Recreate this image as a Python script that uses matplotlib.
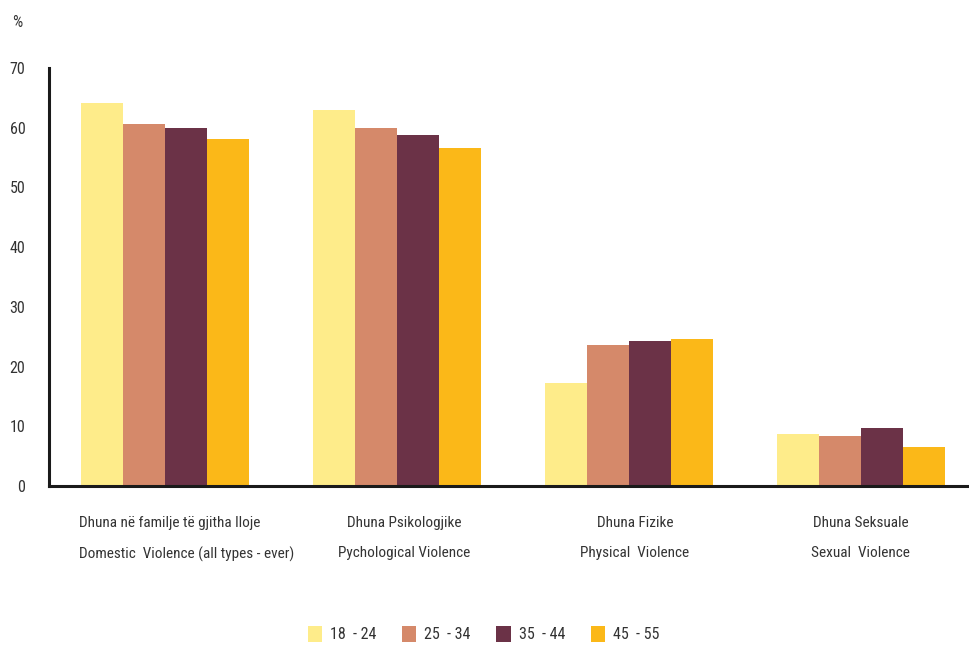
import matplotlib
matplotlib.use("Agg")
import matplotlib.pyplot as plt
import numpy as np
from matplotlib import font_manager

names = {f.name for f in font_manager.fontManager.ttflist}
fam = [n for n in ["Liberation Sans Narrow", "Roboto Condensed", "Liberation Sans"] if n in names] + ["DejaVu Sans"]
plt.rcParams['font.family'] = fam

categories_sq = ["Dhuna në familje të gjitha lloje", "Dhuna Psikologjike", "Dhuna Fizike", "Dhuna Seksuale"]
categories_en = ["Domestic  Violence (all types - ever)", "Pychological Violence", "Physical  Violence", "Sexual  Violence"]
series_labels = ["18  - 24", "25  - 34", "35  - 44", "45  - 55"]
v18_24 = [64.2, 63.0, 17.3, 8.7]
v25_34 = [60.6, 60.0, 23.6, 8.4]
v35_44 = [60.0, 58.8, 24.3, 9.7]
v45_55 = [58.1, 56.6, 24.6, 6.5]
series = [v18_24, v25_34, v35_44, v45_55]
colors = ["#FEEC8A", "#D5896A", "#6B3247", "#FBB818"]
yticks = [0, 10, 20, 30, 40, 50, 60, 70]

txt = "#333333"
fig = plt.figure(figsize=(9.69, 6.45), dpi=100)
ax = fig.add_axes([0.0506, 0.2465, 0.9494, 0.6481])

x = np.arange(len(categories_sq))
w = 0.181
for i, (vals, c, lab) in enumerate(zip(series, colors, series_labels)):
    ax.bar(x + (i - 1.5) * w, vals, width=w, color=c, label=lab, linewidth=0)

ax.set_xlim(-0.5, 3.466)
ax.set_ylim(0, 70)
ax.set_yticks(yticks)
ax.set_yticklabels([str(t) for t in yticks], fontsize=11.5, color=txt)
ax.tick_params(axis='y', length=0, pad=17)
ax.set_xticks([])
for s in ["top", "right"]:
    ax.spines[s].set_visible(False)
ax.spines["left"].set_linewidth(2.2)
ax.spines["bottom"].set_linewidth(2.2)
ax.spines["left"].set_color("#1a1a1a")
ax.spines["bottom"].set_color("#1a1a1a")

trans = ax.get_xaxis_transform()
offsets = [0.0, 0.03, 0.026, 0.0]
for i, (a, b) in enumerate(zip(categories_sq, categories_en)):
    if i == 0:
        xp, ha = x[i] - 2 * w - 0.01, "left"
    else:
        xp, ha = x[i] + offsets[i], "center"
    ax.text(xp, -0.071, a + "\n" + b, transform=trans, ha=ha, va="top",
            fontsize=11, color=txt, linespacing=2.45, multialignment=ha)

fig.text(0.018, 0.965, "%", fontsize=11.5, color=txt, ha="center", va="center")

leg = fig.legend(loc="center", bbox_to_anchor=(0.499, 0.017), ncol=4, frameon=False,
                 fontsize=11.5, handlelength=0.9, handleheight=1.2, handletextpad=0.5,
                 columnspacing=1.6, labelcolor=txt)

fig.savefig("out.png", dpi=100)
